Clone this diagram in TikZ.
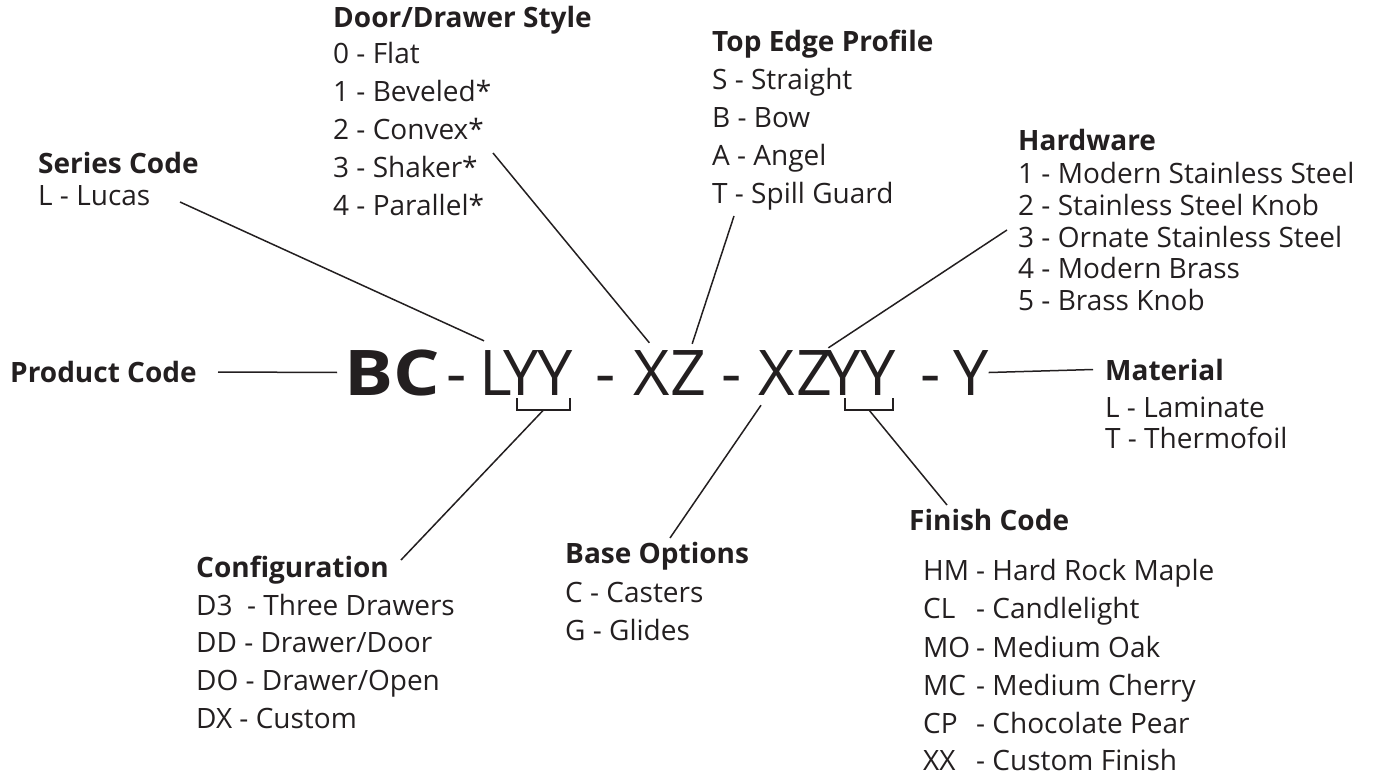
\documentclass[tikz,border=0pt]{standalone}
\usepackage{fontspec}
\setmainfont{Open Sans}
\usetikzlibrary{positioning}
\definecolor{ink}{HTML}{231F20}

\begin{document}
\begin{tikzpicture}[x=1pt,y=-1pt]
  \tikzstyle{every node}=[inner sep=0pt, anchor=base west, text=ink, font=\fontsize{28}{32}\selectfont]
  \tikzstyle{head}=[font=\fontsize{28}{32}\selectfont\bfseries]
  \tikzstyle{glyph}=[font=\fontsize{63}{63}\selectfont]
  \tikzstyle{bigbold}=[font=\fontsize{63}{63}\selectfont\bfseries]
  \tikzstyle{lead}=[ink, line width=1.5pt]

  \useasboundingbox (0,0) rectangle (1374,776);

  % the code
  \node[bigbold] (bc) at (344,395) {\scalebox{1.16}[1]{BC}};
  \node[glyph] (d1) at (446,395) {-};
  \node[glyph] (l) at (479,395) {L};
  \node[glyph] (ya) at (503,395) {Y};
  \node[glyph] (yb) at (537,395) {Y};
  \node[glyph] (d2) at (595,395) {-};
  \node[glyph] (xa) at (633,395) {X};
  \node[glyph] (za) at (670,395) {Z};
  \node[glyph] (d3) at (721,395) {-};
  \node[glyph] (xb) at (758,395) {X};
  \node[glyph] (zb) at (796,395) {Z};
  \node[glyph] (yc) at (825,395) {Y};
  \node[glyph] (yd) at (860,395) {Y};
  \node[glyph] (d4) at (920,395) {-};
  \node[glyph] (ye) at (953,395) {Y};

  % brackets under the YY pairs
  \draw[lead] (517,398) -- (517,410) -- coordinate[pos=.5] (bra) (570,410) -- (570,398);
  \draw[lead] (845,398) -- (845,410) -- coordinate[pos=.5] (brb) (893,410) -- (893,398);

  % product code and material
  \node[head] (prod) at (10,382) {Product Code};
  \node[head] (mat) at (1105,380) {Material};
  \node (mat1) at (1105,417) {L - Laminate};
  \node (mat2) at (1105,448) {T - Thermofoil};

  % series code
  \node[head] (ser) at (38,173) {Series Code};
  \node (ser1) at (38,205) {L - Lucas};

  % door/drawer style
  \node[head] (door) at (333,28) {Door/Drawer Style};
  \node (door0) at (333,63.5) {0 - Flat};
  \node (door1) at (333,101.5) {1 - Beveled*};
  \node (door2) at (333,139.5) {2 - Convex*};
  \node (door3) at (333,177.5) {3 - Shaker*};
  \node (door4) at (333,215.5) {4 - Parallel*};

  % top edge profile
  \node[head] (top) at (712,52) {Top Edge Profile};
  \node (topS) at (712,89) {S - Straight};
  \node (topB) at (712,127) {B - Bow};
  \node (topA) at (712,165) {A - Angel};
  \node (topT) at (712,203) {T - Spill Guard};

  % hardware
  \node[head] (hw) at (1018,150) {Hardware};
  \node (hw1) at (1018,183) {1 - Modern Stainless Steel};
  \node (hw2) at (1018,215) {2 - Stainless Steel Knob};
  \node (hw3) at (1018,247) {3 - Ornate Stainless Steel};
  \node (hw4) at (1018,278.5) {4 - Modern Brass};
  \node (hw5) at (1018,310) {5 - Brass Knob};

  % configuration
  \node[head] (cfg) at (196,577) {Configuration};
  \node (cfg1) at (196,615) {D3\ \ - Three Drawers};
  \node (cfg2) at (196,652.5) {DD - Drawer/Door};
  \node (cfg3) at (196,690) {DO - Drawer/Open};
  \node (cfg4) at (196,728) {DX - Custom};

  % base options
  \node[head] (base) at (565,563) {Base Options};
  \node (base1) at (565,602) {C - Casters};
  \node (base2) at (565,640) {G - Glides};

  % finish code
  \node[head] (fin) at (909,530) {Finish Code};
  \node (finHM) at (923,580) {HM};
  \node (finHMt) at (976,580) {- Hard Rock Maple};
  \node (finCL) at (923,618) {CL};
  \node (finCLt) at (976,618) {- Candlelight};
  \node (finMO) at (923,657) {MO};
  \node (finMOt) at (976,657) {- Medium Oak};
  \node (finMC) at (923,695) {MC};
  \node (finMCt) at (976,695) {- Medium Cherry};
  \node (finCP) at (923,733) {CP};
  \node (finCPt) at (976,733) {- Chocolate Pear};
  \node (finXX) at (923,770) {XX};
  \node (finXXt) at (976,770) {- Custom Finish};

  % free ends of the leader lines
  \coordinate (serEnd) at (180,202);
  \coordinate (doorEnd) at (493,153);
  \coordinate (topEnd) at (734,216);
  \coordinate (hwEnd) at (1007,230);
  \coordinate (cfgEnd) at (401,560);
  \coordinate (baseEnd) at (670,538);
  \coordinate (finEnd) at (947,505);

  \draw[lead] (218,372) -- ([xshift=-7pt]bc.west);
  \draw[lead] (ye.east) -- ([xshift=-12pt]mat.west);
  \draw[lead] (serEnd) -- ([xshift=5pt,yshift=9pt]l.north west);
  \draw[lead] (doorEnd) -- ([xshift=-2pt,yshift=7pt]xa.north);
  \draw[lead] (topEnd) -- ([xshift=4pt,yshift=6pt]za.north);
  \draw[lead] (hwEnd) -- ([xshift=-4pt,yshift=2pt]zb.north east);
  \draw[lead] (baseEnd) -- ([xshift=3pt,yshift=-10pt]xb.south west);
  \draw[lead] (bra) -- (cfgEnd);
  \draw[lead] (brb) -- (finEnd);
\end{tikzpicture}
\end{document}
